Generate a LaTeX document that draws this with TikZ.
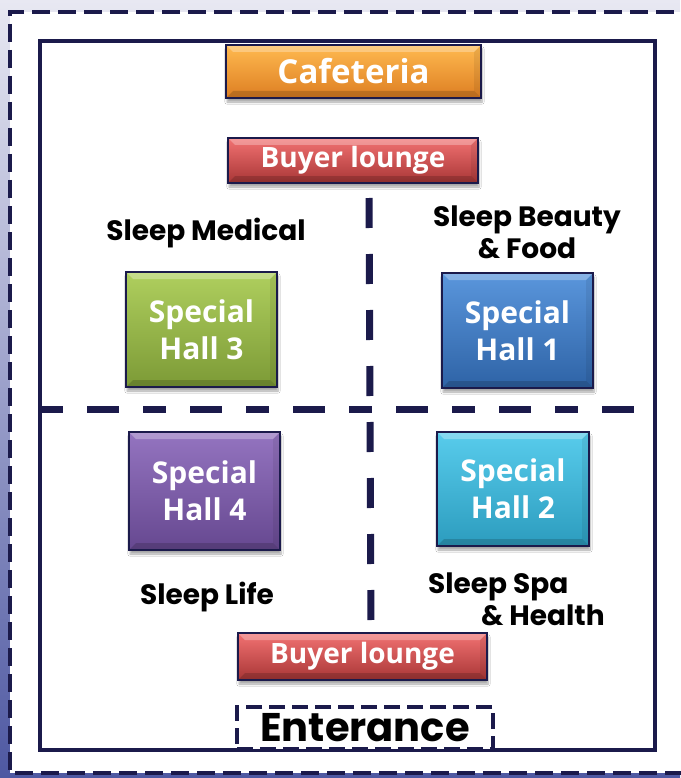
\documentclass[tikz,border=0pt]{standalone}
\usepackage{fontspec}
\setmainfont{Open Sans}
\newfontfamily\labelfont{Poppins}
\usetikzlibrary{shadows.blur}

\definecolor{navy}{HTML}{1B1A4B}
\definecolor{bgtop}{HTML}{E8E8F2}
\definecolor{bgbot}{HTML}{4E58A2}
% fills: top, middle, bottom of each box
\definecolor{orT}{HTML}{FFBA50}\definecolor{orM}{HTML}{F7962F}\definecolor{orB}{HTML}{DD7E22}
\definecolor{rdT}{HTML}{F27272}\definecolor{rdM}{HTML}{D64747}\definecolor{rdB}{HTML}{A83636}
\definecolor{gnT}{HTML}{AFCF5E}\definecolor{gnM}{HTML}{9BBB45}\definecolor{gnB}{HTML}{7C9A36}
\definecolor{buT}{HTML}{5A96DC}\definecolor{buM}{HTML}{3F7CC8}\definecolor{buB}{HTML}{2E63A6}
\definecolor{puT}{HTML}{9474C0}\definecolor{puM}{HTML}{7F5DAA}\definecolor{puB}{HTML}{664890}
\definecolor{cyT}{HTML}{58CCEC}\definecolor{cyM}{HTML}{3BB8DC}\definecolor{cyB}{HTML}{2C9CBE}

\tikzset{
  hallbox/.style={draw=navy, line width=1.6pt, text=white,
    font=\fontsize{30}{37}\selectfont\bfseries, align=center,
    blur shadow={shadow xshift=1pt, shadow yshift=-4pt, shadow opacity=35, shadow blur steps=6},
    path picture={
      \fill[white,opacity=0.28] (path picture bounding box.north west) -- (path picture bounding box.north east)
        -- ([xshift=-7pt,yshift=-7pt]path picture bounding box.north east)
        -- ([xshift=7pt,yshift=-7pt]path picture bounding box.north west) -- cycle;
      \fill[black,opacity=0.16] (path picture bounding box.south west) -- (path picture bounding box.south east)
        -- ([xshift=-7pt,yshift=7pt]path picture bounding box.south east)
        -- ([xshift=7pt,yshift=7pt]path picture bounding box.south west) -- cycle;
      \fill[black,opacity=0.07] (path picture bounding box.north east) -- (path picture bounding box.south east)
        -- ([xshift=-7pt,yshift=7pt]path picture bounding box.south east)
        -- ([xshift=-7pt,yshift=-7pt]path picture bounding box.north east) -- cycle;
    }},
  barbox/.style={hallbox, font=\fontsize{28}{32}\selectfont\bfseries},
  filled/.style={top color=#1T, middle color=#1M, bottom color=#1B},
  zonelabel/.style={font=\labelfont\fontsize{28}{32}\selectfont\bfseries, text=black, inner sep=0pt},
  wall/.style={draw=navy, line width=4pt},
  divider/.style={draw=navy, line width=7pt},
}

\begin{document}
\begin{tikzpicture}[x=1pt,y=-1pt]
  % canvas and outer hall boundary
  \useasboundingbox (0,0) rectangle (680,778);
  \shade[top color=bgtop, bottom color=bgbot] (0,0) rectangle (680,778);
  \fill[white] (10,12) rectangle (700,773);
  \draw[draw=navy, line width=4.5pt, dash pattern=on 18pt off 8pt]
    (700,12) -- (10,12) -- (10,773) -- (700,773);

  % exhibition floor
  \draw[wall] (40,41) rectangle (655,750);

  % zone dividers
  \coordinate (hl) at (40,409);
  \coordinate (hr) at (634,409);
  \coordinate (vt) at (369,198);
  \coordinate (vb) at (371,622);
  \draw[divider, dash pattern=on 23pt off 24pt on 32pt off 24pt] (hl) -- (hr);
  \draw[divider, dash pattern=on 30pt off 26pt] (vt) -- (vb);

  % facilities
  \node[barbox, font=\fontsize{33}{36}\selectfont\bfseries, minimum width=255pt, minimum height=53pt, filled=or]
        (cafe) at (353.5,71.5) {Cafeteria};
  \node[barbox, minimum width=250pt, minimum height=45pt, filled=rd]
        (loungeN) at (353,160.5) {Buyer lounge};
  \node[barbox, minimum width=249pt, minimum height=47pt, filled=rd]
        (loungeS) at (362.5,656.5) {Buyer lounge};

  % special halls
  \node[hallbox, minimum width=151pt, minimum height=115pt, filled=gn]
        (hall3) at (201.5,329.5) {Special\\Hall 3};
  \node[hallbox, minimum width=151pt, minimum height=115pt, filled=bu]
        (hall1) at (517.5,330.5) {Special\\Hall 1};
  \node[hallbox, minimum width=151pt, minimum height=118pt, filled=pu]
        (hall4) at (204.5,491) {Special\\Hall 4};
  \node[hallbox, minimum width=152pt, minimum height=114pt, filled=cy]
        (hall2) at (513,489) {Special\\Hall 2};

  % zone names
  \node[zonelabel] (medical) at (206,233) {Sleep Medical};
  \node[zonelabel, align=center] (beauty) at (527,232) {Sleep Beauty\\\& Food};
  \node[zonelabel] (life) at (207,597) {Sleep Life};
  \node[zonelabel, align=left, anchor=north west] (spa) at (428,573) {Sleep Spa\\\hspace*{53pt}\& Health};

  % entrance
  \node[draw=navy, line width=4pt, dash pattern=on 16pt off 7pt, fill=white,
        minimum width=256pt, minimum height=42pt, inner sep=0pt,
        font=\labelfont\fontsize{40}{40}\selectfont\bfseries, text=black]
        (entry) at (365,728) {Enterance};
\end{tikzpicture}
\end{document}
